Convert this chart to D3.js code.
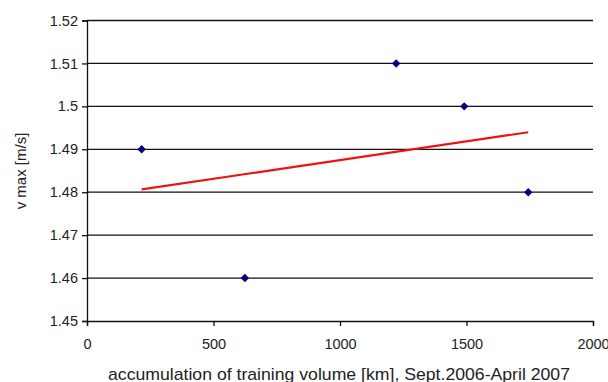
<!DOCTYPE html>
<html>
<head>
<meta charset="utf-8">
<script src="https://cdn.jsdelivr.net/npm/d3@7"></script>
<style>
  body { margin: 0; background: #fff; overflow: hidden; }
  svg { font-family: "Liberation Sans", Arial, sans-serif; display: block; }
</style>
</head>
<body>
<div id="chart"></div>
<script>
const volumeKm = [216, 624, 1222, 1491, 1744];
const vMax = [1.49, 1.46, 1.51, 1.50, 1.48];
const xTicks = [0, 500, 1000, 1500, 2000];
const yTicks = [1.45, 1.46, 1.47, 1.48, 1.49, 1.5, 1.51, 1.52];

const width = 608, height = 382;
const margin = { left: 87, right: 15, top: 20.5, bottom: 61 };

const svg = d3.select('#chart').append('svg')
  .attr('width', width)
  .attr('height', height);

const x = d3.scaleLinear().domain([0, 2000]).range([margin.left, width - margin.right]);
const y = d3.scaleLinear().domain([1.45, 1.52]).range([height - margin.bottom, margin.top]);

// gridlines
svg.append('g')
  .selectAll('line')
  .data(yTicks.slice(1))
  .enter().append('line')
  .attr('x1', margin.left)
  .attr('x2', width - margin.right)
  .attr('y1', d => y(d))
  .attr('y2', d => y(d))
  .attr('stroke', '#111')
  .attr('stroke-width', 1.3);

// y axis
const yAxis = svg.append('g')
  .attr('transform', `translate(${margin.left},0)`)
  .call(d3.axisLeft(y).tickValues(yTicks).tickSize(5).tickPadding(4)
    .tickFormat(d => String(+d.toFixed(2))));
yAxis.select('.domain').attr('stroke', '#111').attr('stroke-width', 1.3);
yAxis.selectAll('.tick line').attr('stroke', '#111').attr('stroke-width', 1.3);
yAxis.selectAll('text').attr('font-size', 14.5).attr('fill', '#222');

// x axis
const xAxis = svg.append('g')
  .attr('transform', `translate(0,${y(1.45)})`)
  .call(d3.axisBottom(x).tickValues(xTicks).tickSize(5).tickPadding(13)
    .tickFormat(d => String(d)));
xAxis.select('.domain').attr('stroke', '#111').attr('stroke-width', 1.3);
xAxis.selectAll('.tick line').attr('stroke', '#111').attr('stroke-width', 1.3);
xAxis.selectAll('text').attr('font-size', 14.5).attr('fill', '#222');

// linear trend line (least squares, as the spreadsheet draws it)
const mx = d3.mean(volumeKm), my = d3.mean(vMax);
const sxy = d3.sum(volumeKm, (d, i) => (d - mx) * (vMax[i] - my));
const sxx = d3.sum(volumeKm, d => (d - mx) * (d - mx));
const slope = sxy / sxx, icpt = my - slope * mx;
const xEnds = d3.extent(volumeKm);
svg.append('path')
  .datum(xEnds)
  .attr('d', d3.line().x(d => x(d)).y(d => y(icpt + slope * d)))
  .attr('stroke', '#ee1111')
  .attr('stroke-width', 2.2)
  .attr('fill', 'none');

// points
svg.append('g')
  .selectAll('path')
  .data(volumeKm)
  .enter().append('path')
  .attr('transform', (d, i) => `translate(${x(d)},${y(vMax[i])})`)
  .attr('d', d3.symbol().type(d3.symbolDiamond2).size(45))
  .attr('fill', '#000080');

// axis titles
svg.append('text')
  .attr('x', 108)
  .attr('y', 380)
  .attr('font-size', 17)
  .attr('textLength', 462)
  .attr('lengthAdjust', 'spacingAndGlyphs')
  .attr('fill', '#222')
  .text('accumulation of training volume [km], Sept.2006-April 2007');

svg.append('text')
  .attr('transform', 'translate(26,171) rotate(-90)')
  .attr('text-anchor', 'middle')
  .attr('font-size', 15)
  .attr('fill', '#222')
  .text('v max [m/s]');
</script>
</body>
</html>
